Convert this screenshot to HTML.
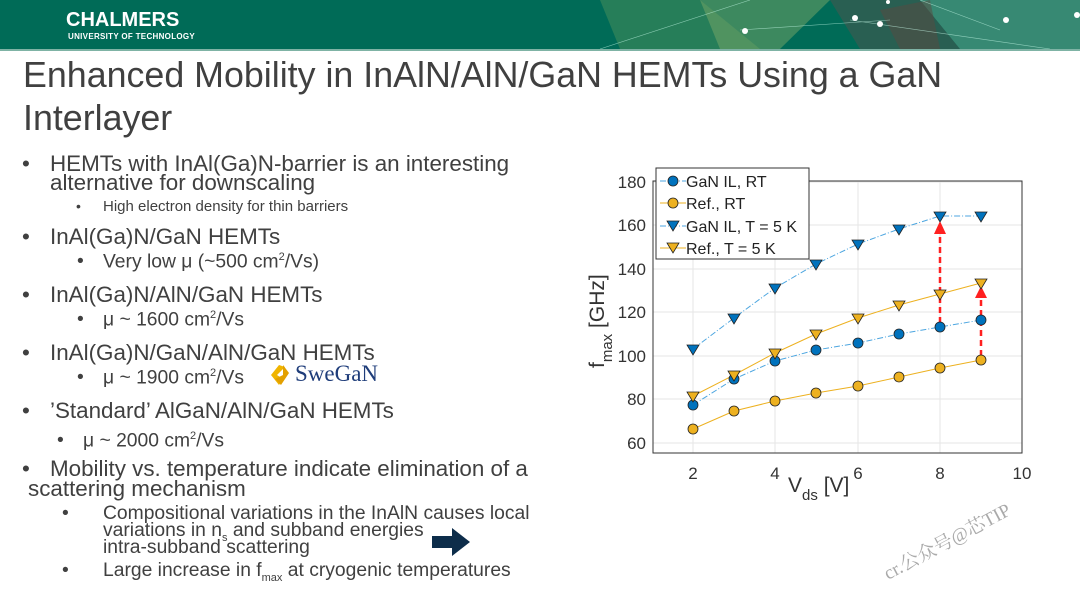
<!DOCTYPE html>
<html><head><meta charset="utf-8"><style>
body{margin:0;width:1080px;height:608px;overflow:hidden;background:#fff;font-family:"Liberation Sans",sans-serif;position:relative;color:#404040}
.t{position:absolute;white-space:nowrap;line-height:1}
.h{position:absolute;left:0;top:0;width:1080px;height:49px;background:#006b57;border-bottom:2px solid #7fb3a5}
.b{font-size:22.4px}
.s{font-size:19.3px}
.w{position:absolute;left:0;top:2px;width:560px;height:600px}
</style></head><body>
<div class="h">
<svg width="1080" height="49" style="position:absolute;left:0;top:0">
<polygon points="600,0 700,0 760,49 620,49" fill="#3f8a5a" opacity=".6"/>
<polygon points="700,0 830,0 780,49 720,49" fill="#7aa868" opacity=".5"/>
<polygon points="830,0 920,0 960,49 860,49" fill="#3a5a50" opacity=".7"/>
<polygon points="920,0 1080,0 1080,49 960,49" fill="#6ea890" opacity=".5"/>
<polygon points="880,10 930,0 940,49 900,49" fill="#5a4a40" opacity=".5"/>
<g stroke="#cfe" stroke-width=".6" opacity=".6"><line x1="600" y1="49" x2="750" y2="0"/><line x1="740" y1="30" x2="890" y2="20"/><line x1="850" y1="20" x2="1050" y2="49"/><line x1="920" y1="0" x2="1000" y2="30"/></g>
<g fill="#fff"><circle cx="745" cy="31" r="3"/><circle cx="855" cy="18" r="3"/><circle cx="880" cy="24" r="3"/><circle cx="1006" cy="20" r="3"/><circle cx="1077" cy="15" r="3"/><circle cx="888" cy="2" r="2"/></g>
</svg>
<div class="t" style="left:66px;top:10px;color:#fff;font-weight:bold;font-size:20px">CHALMERS</div>
<div class="t" style="left:68px;top:33px;color:#fff;font-weight:bold;font-size:8px;letter-spacing:.3px">UNIVERSITY OF TECHNOLOGY</div>
</div>
<div class="t" style="left:23px;top:58px;font-size:35.8px;color:#404040">Enhanced Mobility in InAlN/AlN/GaN HEMTs Using a GaN</div>
<div class="t" style="left:23px;top:101px;font-size:35.8px;color:#404040">Interlayer</div>
<div class="w">
<div class="t b" style="left:22px;top:151px">•</div>
<div class="t b" style="left:50px;top:151px">HEMTs with InAl(Ga)N-barrier is an interesting</div>
<div class="t b" style="left:50px;top:170px">alternative for downscaling</div>
<div class="t" style="left:76px;top:197px;font-size:14px">•</div>
<div class="t" style="left:103px;top:197px;font-size:15px">High electron density for thin barriers</div>
<div class="t b" style="left:22px;top:224px">•</div>
<div class="t b" style="left:50px;top:224px">InAl(Ga)N/GaN HEMTs</div>
<div class="t s" style="left:77px;top:250px">•</div>
<div class="t s" style="left:103px;top:250px">Very low μ (~500 cm<sup style="font-size:11px">2</sup>/Vs)</div>
<div class="t b" style="left:22px;top:282px">•</div>
<div class="t b" style="left:50px;top:282px">InAl(Ga)N/AlN/GaN HEMTs</div>
<div class="t s" style="left:77px;top:308px">•</div>
<div class="t s" style="left:103px;top:308px">μ ~ 1600 cm<sup style="font-size:11px">2</sup>/Vs</div>
<div class="t b" style="left:22px;top:340px">•</div>
<div class="t b" style="left:50px;top:340px">InAl(Ga)N/GaN/AlN/GaN HEMTs</div>
<div class="t s" style="left:77px;top:366px">•</div>
<div class="t s" style="left:103px;top:366px">μ ~ 1900 cm<sup style="font-size:11px">2</sup>/Vs</div>
<div class="t b" style="left:22px;top:398px">•</div>
<div class="t b" style="left:50px;top:398px">’Standard’ AlGaN/AlN/GaN HEMTs</div>
<div class="t s" style="left:57px;top:429px">•</div>
<div class="t s" style="left:83px;top:429px">μ ~ 2000 cm<sup style="font-size:11px">2</sup>/Vs</div>
<div class="t b" style="left:22px;top:456px">•</div>
<div class="t b" style="left:50px;top:456px">Mobility vs. temperature indicate elimination of a</div>
<div class="t b" style="left:28px;top:476px">scattering mechanism</div>
<div class="t s" style="left:62px;top:502px">•</div>
<div class="t s" style="left:103px;top:502px">Compositional variations in the InAlN causes local</div>
<div class="t s" style="left:103px;top:519px">variations in n<sub style="font-size:11px">s</sub> and subband energies</div>
<div class="t s" style="left:103px;top:536px">intra-subband scattering</div>
<div class="t s" style="left:62px;top:559px">•</div>
<div class="t s" style="left:103px;top:559px">Large increase in f<sub style="font-size:11px">max</sub> at cryogenic temperatures</div>
</div>
<svg width="30" height="24" style="position:absolute;left:265px;top:363px"><path d="M14 2 L6 12 L14 22 L18 16 L12 12 L20 4Z" fill="#f0b400"/><path d="M18 2 L24 10 L16 22 L10 16 L18 12 Z" fill="#e3a000"/></svg>
<div class="t" style="left:295px;top:362px;font-size:23px;color:#1f3d7a;font-family:'Liberation Serif',serif">SweGaN</div>
<svg width="40" height="28" style="position:absolute;left:432px;top:528px"><path d="M0 8 H20 V0 L38 14 L20 28 V20 H0Z" fill="#0d2d4a"/></svg>

<svg width="1080" height="608" style="position:absolute;left:0;top:0" font-family="Liberation Sans, sans-serif">
<g stroke="#e6e6e6" stroke-width="1">
<line x1="693" y1="181" x2="693" y2="453"/><line x1="775" y1="181" x2="775" y2="453"/><line x1="858" y1="181" x2="858" y2="453"/><line x1="940" y1="181" x2="940" y2="453"/>
<line x1="653" y1="182" x2="1022" y2="182"/><line x1="653" y1="225" x2="1022" y2="225"/><line x1="653" y1="269" x2="1022" y2="269"/><line x1="653" y1="312" x2="1022" y2="312"/><line x1="653" y1="356" x2="1022" y2="356"/><line x1="653" y1="399" x2="1022" y2="399"/><line x1="653" y1="443" x2="1022" y2="443"/>
</g>
<rect x="653" y="181" width="369" height="272" fill="none" stroke="#333" stroke-width="1"/>
<g fill="#333" font-size="17" text-anchor="end">
<text x="646" y="188">180</text><text x="646" y="231">160</text><text x="646" y="275">140</text><text x="646" y="318">120</text><text x="646" y="362">100</text><text x="646" y="405">80</text><text x="646" y="449">60</text>
</g>
<g fill="#333" font-size="17" text-anchor="middle">
<text x="693" y="479">2</text><text x="775" y="479">4</text><text x="858" y="479">6</text><text x="940" y="479">8</text><text x="1022" y="479">10</text>
</g>
<text x="788" y="492" font-size="21" fill="#333">V<tspan font-size="15" dy="8">ds</tspan><tspan dy="-8"> [V]</tspan></text>
<text transform="translate(604,368) rotate(-90)" font-size="21" fill="#333">f<tspan font-size="15" dy="8">max</tspan><tspan dy="-8"> [GHz]</tspan></text>
<polyline fill="none" stroke="#4da6e0" stroke-dasharray="6,2,1,2" points="693,405 734,379 775,361 816,350 858,343 899,334 940,327 981,320"/>
<polyline fill="none" stroke="#edb120" points="693,429 734,411 775,401 816,393 858,386 899,377 940,368 981,360"/>
<polyline fill="none" stroke="#4da6e0" stroke-dasharray="6,2,1,2" points="693,349 734,318 775,288 816,264 858,244 899,229 940,216 981,216"/>
<polyline fill="none" stroke="#edb120" points="693,396 734,375 775,353 816,334 858,318 899,305 940,294 981,283"/>
<g stroke="#ff2020" stroke-width="2.5" stroke-dasharray="6,4" fill="none"><line x1="940" y1="323" x2="940" y2="232"/><line x1="981" y1="356" x2="981" y2="296"/></g>
<g fill="#ff2020"><path d="M934 234 L940 221 L946 234Z"/><path d="M975 298 L981 286 L987 298Z"/></g>
<g fill="#0072bd" stroke="#222" stroke-width=".8">
<circle cx="693" cy="405" r="5"/><circle cx="734" cy="379" r="5"/><circle cx="775" cy="361" r="5"/><circle cx="816" cy="350" r="5"/><circle cx="858" cy="343" r="5"/><circle cx="899" cy="334" r="5"/><circle cx="940" cy="327" r="5"/><circle cx="981" cy="320" r="5"/>
</g>
<g fill="#edb120" stroke="#222" stroke-width=".8">
<circle cx="693" cy="429" r="5"/><circle cx="734" cy="411" r="5"/><circle cx="775" cy="401" r="5"/><circle cx="816" cy="393" r="5"/><circle cx="858" cy="386" r="5"/><circle cx="899" cy="377" r="5"/><circle cx="940" cy="368" r="5"/><circle cx="981" cy="360" r="5"/>
</g>
<g fill="#0072bd" stroke="#222" stroke-width=".8">
<path d="M687 345h12l-6 10z"/><path d="M728 314h12l-6 10z"/><path d="M769 284h12l-6 10z"/><path d="M810 260h12l-6 10z"/><path d="M852 240h12l-6 10z"/><path d="M893 225h12l-6 10z"/><path d="M934 212h12l-6 10z"/><path d="M975 212h12l-6 10z"/>
</g>
<g fill="#edb120" stroke="#222" stroke-width=".8">
<path d="M687 392h12l-6 10z"/><path d="M728 371h12l-6 10z"/><path d="M769 349h12l-6 10z"/><path d="M810 330h12l-6 10z"/><path d="M852 314h12l-6 10z"/><path d="M893 301h12l-6 10z"/><path d="M934 290h12l-6 10z"/><path d="M975 279h12l-6 10z"/>
</g>
<rect x="656" y="168" width="153" height="91" fill="#fff" stroke="#333" stroke-width="1"/>
<line x1="660" y1="181" x2="686" y2="181" stroke="#4da6e0" stroke-dasharray="6,2,1,2"/><circle cx="673" cy="181" r="5" fill="#0072bd" stroke="#222" stroke-width=".8"/>
<line x1="660" y1="203" x2="686" y2="203" stroke="#edb120"/><circle cx="673" cy="203" r="5" fill="#edb120" stroke="#222" stroke-width=".8"/>
<line x1="660" y1="226" x2="686" y2="226" stroke="#4da6e0" stroke-dasharray="6,2,1,2"/><path d="M667 221h12l-6 10z" fill="#0072bd" stroke="#222" stroke-width=".8"/>
<line x1="660" y1="248" x2="686" y2="248" stroke="#edb120"/><path d="M667 243h12l-6 10z" fill="#edb120" stroke="#222" stroke-width=".8"/>
<g font-size="16" fill="#222"><text x="686" y="187">GaN IL, RT</text><text x="686" y="209">Ref., RT</text><text x="686" y="232">GaN IL, T = 5 K</text><text x="686" y="254">Ref., T = 5 K</text></g>
<text transform="translate(888,580) rotate(-28)" font-size="19" fill="#aaa" font-family="Liberation Serif, Noto Serif CJK SC, serif">cr.公众号@芯TIP</text>
</svg>
</body></html>
